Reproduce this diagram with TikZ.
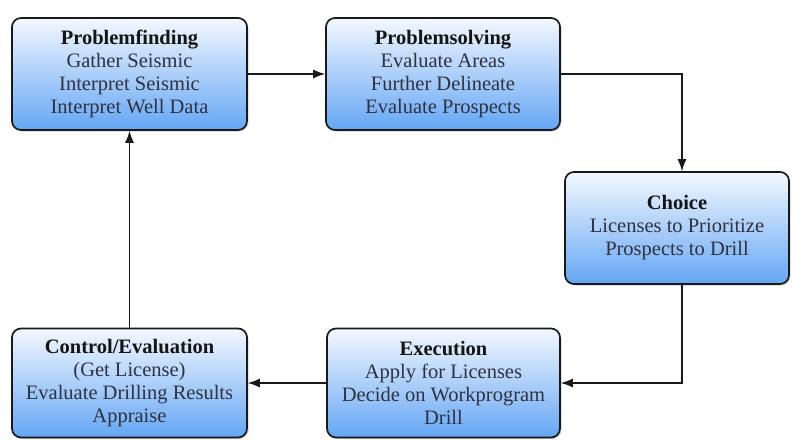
\documentclass[tikz,border=0pt]{standalone}
\usepackage{fontspec}
\setmainfont{Liberation Serif}
\usetikzlibrary{shadows,arrows.meta}
\definecolor{boxtop}{HTML}{F4F8FF}
\definecolor{boxbot}{HTML}{64A6F4}
\definecolor{bodytxt}{HTML}{2E3140}
\definecolor{titletxt}{HTML}{151515}
\tikzset{
  stagebox/.style={draw=black!90, line width=1.7pt, rounded corners=9pt,
    top color=boxtop, bottom color=boxbot,
    drop shadow={shadow xshift=1.5pt, shadow yshift=-1.5pt, opacity=0.35},
    align=center, text=bodytxt, inner sep=2pt,
    font=\fontsize{20.5}{23}\selectfont},
  conn/.style={draw=black!90, line width=1.1pt, -{Latex[length=12pt,width=9pt]}},
}
\newcommand{\ttl}[1]{{\bfseries\color{titletxt}#1}}
\begin{document}
\begin{tikzpicture}[x=1pt,y=-1pt]
\useasboundingbox (0,0) rectangle (792,439);
\node[stagebox, minimum width=235pt, minimum height=112pt] (pf) at (129.5,74)
  {\ttl{Problemfinding}\\Gather Seismic\\Interpret Seismic\\Interpret Well Data};
\node[stagebox, minimum width=234pt, minimum height=112pt] (ps) at (443,74)
  {\ttl{Problemsolving}\\Evaluate Areas\\Further Delineate\\Evaluate Prospects};
\node[stagebox, minimum width=224pt, minimum height=112pt] (ch) at (677,228)
  {\ttl{Choice}\\Licenses to Prioritize\\Prospects to Drill};
\node[stagebox, minimum width=233pt, minimum height=109pt] (ex) at (443.5,383)
  {\ttl{Execution}\\Apply for Licenses\\Decide on Workprogram\\Drill};
\node[stagebox, minimum width=235pt, minimum height=109pt] (ce) at (129.5,383)
  {\ttl{Control/Evaluation}\\(Get License)\\Evaluate Drilling Results\\Appraise};
\draw[conn] (pf.east) -- (ps.west);
\draw[conn] (ps.east) -| ([xshift=5pt]ch.north);
\draw[conn] ([xshift=5pt]ch.south) |- (ex.east);
\draw[conn] (ex.west) -- (ce.east);
\draw[conn] (ce.north) -- (pf.south);
\end{tikzpicture}
\end{document}
